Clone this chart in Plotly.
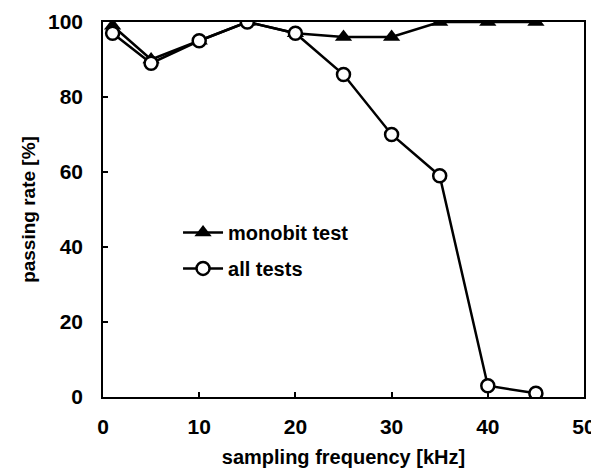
import plotly.graph_objects as go

freq = [1, 5, 10, 15, 20, 25, 30, 35, 40, 45]
monobit = [99, 90, 95, 100, 97, 96, 96, 100, 100, 100]
all_tests = [97, 89, 95, 100, 97, 86, 70, 59, 3, 1]

font = "Liberation Sans, Arial, sans-serif"

fig = go.Figure()
fig.add_trace(go.Scatter(
    x=freq, y=monobit, mode="lines+markers", name="monobit test",
    legendgroup="a",
    line=dict(color="black", width=2.5),
    marker=dict(symbol="triangle-up", size=15, color="black"),
))
fig.add_trace(go.Scatter(
    x=freq, y=all_tests, mode="lines+markers", name="all tests",
    legendgroup="b",
    line=dict(color="black", width=2.5),
    marker=dict(symbol="circle", size=13, color="white", line=dict(color="black", width=2.5)),
))

# the page body adds an 8px margin, so the figure is sized/offset to compensate
fig.update_layout(
    width=591, height=467,
    margin=dict(l=95, r=15, t=14, b=78),
    paper_bgcolor="white", plot_bgcolor="white",
    font=dict(family=font, size=18, color="black"),
    legend=dict(x=0.156, y=0.391, xanchor="left", yanchor="middle",
                bgcolor="rgba(0,0,0,0)", font=dict(size=20, weight="bold"),
                traceorder="grouped", tracegroupgap=7, itemwidth=40),
)
fig.update_xaxes(
    range=[0, 50], tickvals=[0, 10, 20, 30, 40, 50],
    ticks="inside", ticklen=5, tickwidth=1.5, tickcolor="black",
    showline=True, linecolor="black", linewidth=1.5, mirror=True,
    showgrid=False, zeroline=False, automargin=False,
    title=dict(text="sampling frequency [kHz]", standoff=13,
               font=dict(size=20, weight="bold")),
    tickfont=dict(size=21, weight="bold"),
    ticklabelstandoff=10,
)
fig.update_yaxes(
    range=[0, 100], tickvals=[0, 20, 40, 60, 80, 100],
    ticks="inside", ticklen=5, tickwidth=1.5, tickcolor="black",
    showline=True, linecolor="black", linewidth=1.5, mirror=True,
    showgrid=False, zeroline=False, automargin=False,
    title=dict(text="passing rate [%]", standoff=7,
               font=dict(size=19, weight="bold")),
    tickfont=dict(size=21, weight="bold"),
    ticklabelstandoff=14,
)

fig.write_html("out.html")
